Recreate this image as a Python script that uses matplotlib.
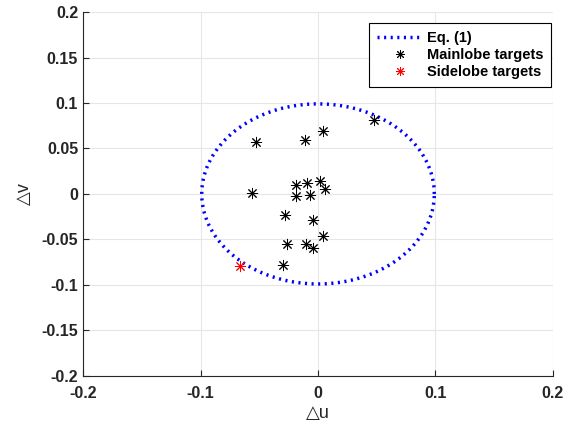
import numpy as np
import matplotlib
matplotlib.use("Agg")
import matplotlib.pyplot as plt

plt.rcParams["font.family"] = ["Liberation Sans", "DejaVu Sans"]
plt.rcParams["font.weight"] = "bold"

# Eq. (1) boundary: ellipse semi-axes in (du, dv)
ru, rv = 0.099, 0.099

main_u = [0.048, 0.004, -0.053, -0.011, -0.056, -0.019, -0.009, 0.002, 0.006,
          -0.019, -0.007, -0.028, -0.004, 0.004, -0.026, -0.010, -0.004, -0.030]
main_v = [0.081, 0.069, 0.057, 0.059, 0.001, 0.010, 0.012, 0.014, 0.005,
          -0.002, -0.001, -0.023, -0.029, -0.046, -0.055, -0.055, -0.059, -0.078]
side_u = [-0.066]
side_v = [-0.079]

yticks = [-0.2, -0.15, -0.1, -0.05, 0, 0.05, 0.1, 0.15, 0.2]
ytick_labels = ["-0.2", "-0.15", "-0.1", "-0.05", "0", "0.05", "0.1", "0.15", "0.2"]
xticks = [-0.2, -0.1, 0, 0.1, 0.2]
xtick_labels = ["-0.2", "-0.1", "0", "0.1", "0.2"]

fig = plt.figure(figsize=(5.73, 4.3), dpi=100)
ax = fig.add_axes([0.145, 0.126, 0.82, 0.846])

t = np.linspace(0, 2 * np.pi, 400)
ax.plot(ru * np.cos(t), rv * np.sin(t), color="#0000ff", lw=2.5,
        linestyle=(0, (0.6, 1.3)), label="Eq. (1)")
ast = (8, 2, 0)
ax.plot(main_u, main_v, linestyle="none", marker=ast, color="k", ms=8,
        mew=0.7, label="Mainlobe targets")
ax.plot(side_u, side_v, linestyle="none", marker=ast, color="r", ms=8,
        mew=0.7, label="Sidelobe targets")

ax.set_xlim(-0.2, 0.2)
ax.set_ylim(-0.2, 0.2)
ax.set_xticks(xticks)
ax.set_xticklabels(xtick_labels)
ax.set_yticks(yticks)
ax.set_yticklabels(ytick_labels)
ax.tick_params(direction="in", labelsize=11.5, length=4, color="#262626",
               labelcolor="#262626")
ax.tick_params(axis="x", pad=7)
ax.grid(True, color="#e6e6e6", lw=0.8)
ax.set_axisbelow(True)
for s in ["top", "right"]:
    ax.spines[s].set_visible(False)
for s in ["left", "bottom"]:
    ax.spines[s].set_color("#262626")
    ax.spines[s].set_linewidth(0.8)

ax.set_xlabel("\u25b3u", fontsize=13, color="#262626", labelpad=3)
ax.set_ylabel("\u25b3v", fontsize=13, color="#262626", labelpad=6)

leg = ax.legend(loc="upper right", fontsize=10.5, frameon=True, fancybox=False,
                edgecolor="k", framealpha=1, handlelength=3.1, handletextpad=0.3,
                borderpad=0.55, labelspacing=0.2, borderaxespad=0, numpoints=1,
                markerscale=0.8, bbox_to_anchor=(0.996, 0.97))
leg.get_frame().set_linewidth(0.8)

fig.savefig("out.png", dpi=100)
